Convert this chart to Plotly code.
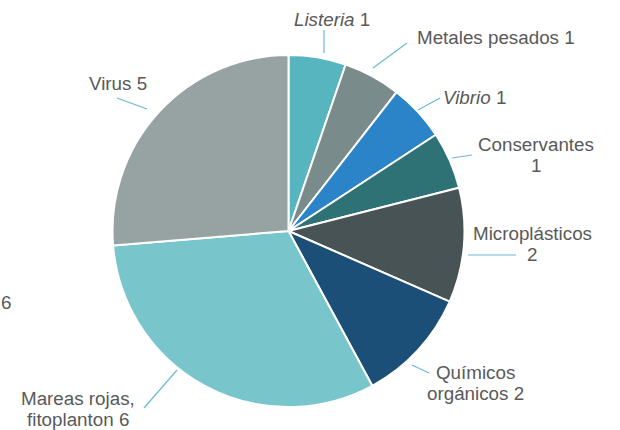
import plotly.graph_objects as go

# Data
categories = ["Listeria", "Metales pesados", "Vibrio", "Conservantes",
              "Microplásticos", "Químicos orgánicos", "Mareas rojas, fitoplanton", "Virus"]
values = [1, 1, 1, 1, 2, 2, 6, 5]
colors = ["#57b5bf", "#7a8b8c", "#2a84c7", "#2e7276", "#485356", "#1b4f77", "#79c5cc", "#96a3a2"]

W, H = 620, 430
cx, cy, r = 288.5, 231, 176

def px(x):
    return x / W

def py(y):
    return 1 - y / H

fig = go.Figure(go.Pie(
    labels=categories, values=values, sort=False, direction="clockwise", rotation=0,
    marker=dict(colors=colors, line=dict(color="white", width=2)),
    textinfo="none", hoverinfo="label+value", showlegend=False,
    domain=dict(x=[px(cx - r), px(cx + r)], y=[py(cy + r), py(cy - r)]),
))

# label layout: (lines of text, text center x, first-line center y, leader line)
fmt = {
    "Listeria": (["<i>Listeria</i> %d"], 332, 19, (324, 30, 324, 53)),
    "Metales pesados": (["Metales pesados %d"], 496, 38, (373, 68, 407, 43)),
    "Vibrio": (["<i>Vibrio</i> %d"], 474, 97, (418, 110, 440, 98)),
    "Conservantes": (["Conservantes", "%d"], 536, 144, (452, 158, 472, 155)),
    "Microplásticos": (["Microplásticos", "%d"], 532, 233, (468, 255, 516, 255)),
    "Químicos orgánicos": (["Químicos", "orgánicos %d"], 475, 372, (412, 365, 429, 373)),
    "Mareas rojas, fitoplanton": (["Mareas rojas,", "fitoplanton %d"], 78, 398, (144, 408, 177, 370)),
    "Virus": (["Virus %d"], 118, 84, (117, 98, 147, 109)),
}

font = dict(family="Liberation Sans, Arial, sans-serif", size=18.8, color="#595959")
line_gap = 21
for cat, val in zip(categories, values):
    lines, tx, ty, (x0, y0, x1, y1) = fmt[cat]
    for i, ln in enumerate(lines):
        text = ln % val if "%d" in ln else ln
        fig.add_annotation(x=px(tx), y=py(ty + i * line_gap), xref="paper", yref="paper",
                           text=text, showarrow=False, xanchor="center", yanchor="middle",
                           font=font)
    fig.add_shape(type="line", xref="paper", yref="paper",
                  x0=px(x0), y0=py(y0), x1=px(x1), y1=py(y1),
                  line=dict(color="#6cb9d6", width=1.2))

# stray label at left edge
fig.add_annotation(x=px(-1), y=py(302), xref="paper", yref="paper", text="6",
                   showarrow=False, xanchor="left", yanchor="middle", font=font)

fig.update_layout(width=W, height=H, margin=dict(l=0, r=0, t=0, b=0),
                  paper_bgcolor="white", plot_bgcolor="white")
fig.write_html("out.html", config={"displayModeBar": False},
               post_script="document.body.style.margin='0';document.body.style.overflow='hidden';")
